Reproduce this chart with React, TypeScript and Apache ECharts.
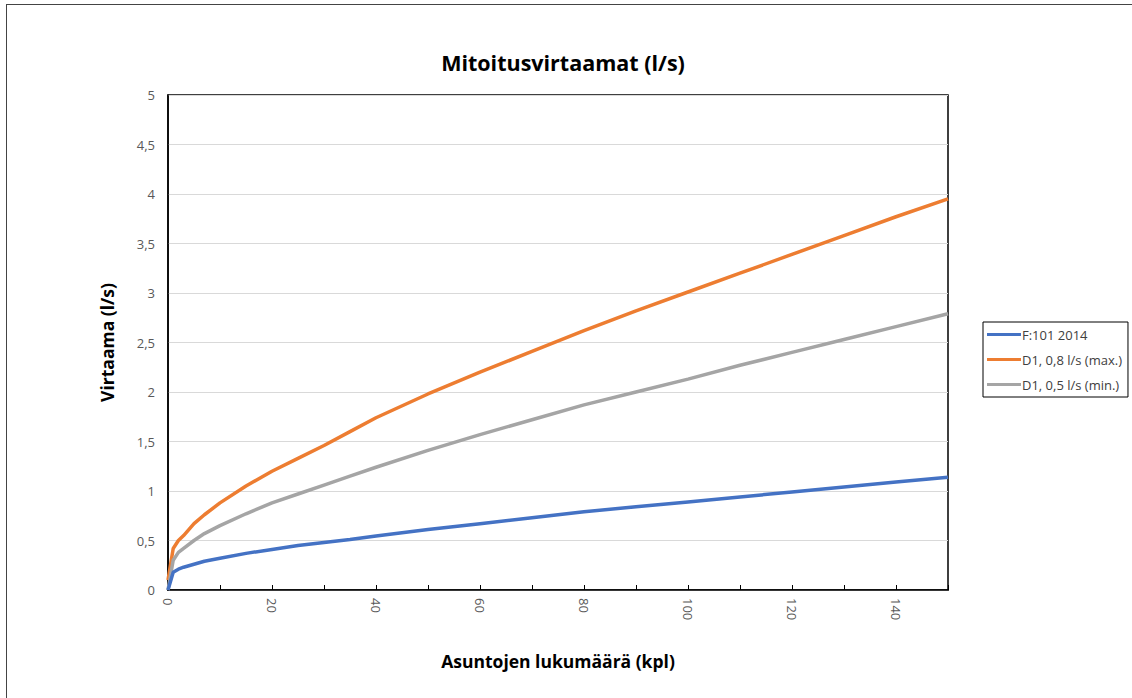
import React, { useEffect, useRef } from "react";
import * as echarts from "echarts";

const xValues = [0, 1, 2, 3, 5, 7, 10, 15, 20, 25, 30, 35, 40, 50, 60, 70, 80, 90, 100, 110, 120, 130, 140, 150];
const blueValues = [0, 0.18, 0.21, 0.23, 0.26, 0.29, 0.32, 0.37, 0.41, 0.45, 0.48, 0.51, 0.545, 0.61, 0.67, 0.73, 0.79, 0.84, 0.89, 0.94, 0.99, 1.04, 1.09, 1.14];
const orangeValues = [0.1, 0.42, 0.5, 0.55, 0.67, 0.76, 0.88, 1.05, 1.2, 1.33, 1.46, 1.6, 1.74, 1.98, 2.2, 2.41, 2.62, 2.82, 3.01, 3.2, 3.39, 3.58, 3.77, 3.95];
const grayValues = [0, 0.3, 0.38, 0.42, 0.5, 0.57, 0.65, 0.77, 0.88, 0.97, 1.06, 1.15, 1.24, 1.41, 1.57, 1.72, 1.87, 2.0, 2.13, 2.27, 2.4, 2.53, 2.66, 2.79];
const seriesNames = ["F:101 2014", "D1, 0,8 l/s (max.)", "D1, 0,5 l/s (min.)"];
const seriesColors = ["#4472C4", "#ED7D31", "#A5A5A5"];

const FONT = "'Open Sans', 'Noto Sans', sans-serif";

export default function App() {
  const ref = useRef<HTMLDivElement>(null);
  useEffect(() => {
    if (!ref.current) return;
    const chart = echarts.init(ref.current, undefined, { renderer: "svg" });
    const pairs = (ys: number[]) => xValues.map((x, i) => [x, ys[i]]);
    const all = [blueValues, orangeValues, grayValues];
    chart.setOption({
      animation: false,
      backgroundColor: "#fff",
      textStyle: { fontFamily: FONT },
      title: {
        text: "Mitoitusvirtaamat (l/s)",
        left: 558,
        textAlign: "center",
        top: 46,
        textStyle: { fontFamily: FONT, fontSize: 21.5, fontWeight: "bold", color: "#000" },
      },
      grid: {
        left: 168,
        top: 95,
        right: 184,
        bottom: 108,
        show: true,
        borderColor: "#000",
        borderWidth: 1.5,
      },
      legend: {
        orient: "vertical",
        left: 983,
        top: 322,
        data: seriesNames,
        borderColor: "#000",
        borderWidth: 1,
        padding: [6, 6, 6, 4],
        itemWidth: 34,
        itemHeight: 3,
        itemGap: 12,
        icon: "rect",
        textStyle: { fontFamily: FONT, fontSize: 13, color: "#404040", padding: [0, 0, 0, -4] },
      },
      xAxis: {
        type: "value",
        min: 0,
        max: 150,
        interval: 10,
        name: "Asuntojen lukumäärä (kpl)",
        nameLocation: "middle",
        nameGap: 62,
        nameTextStyle: { fontFamily: FONT, fontSize: 17.5, fontWeight: "bold", color: "#000" },
        axisLine: { show: true, lineStyle: { color: "#000", width: 1.5 } },
        axisTick: { show: true, inside: true, length: 5, lineStyle: { color: "#000" } },
        axisLabel: {
          rotate: -90,
          fontSize: 13,
          color: "#595959",
          margin: 8,
          formatter: (v: number) => (v % 20 === 0 && v < 150 ? String(v) : ""),
        },
        splitLine: { show: false },
      },
      yAxis: {
        type: "value",
        min: 0,
        max: 5,
        interval: 0.5,
        name: "Virtaama (l/s)",
        nameLocation: "middle",
        nameGap: 52,
        nameTextStyle: { fontFamily: FONT, fontSize: 17.5, fontWeight: "bold", color: "#000" },
        axisLine: { show: true, lineStyle: { color: "#000", width: 1.5 } },
        axisTick: { show: false },
        axisLabel: {
          fontSize: 13,
          color: "#595959",
          margin: 13,
          formatter: (v: number) => String(v).replace(".", ","),
        },
        splitLine: { show: true, lineStyle: { color: "#d9d9d9", width: 1 } },
      },
      graphic: [
        { type: "line", shape: { x1: 6, y1: 4.5, x2: 1132, y2: 4.5 }, style: { stroke: "#444", lineWidth: 1 } },
        { type: "line", shape: { x1: 6.5, y1: 4, x2: 6.5, y2: 698 }, style: { stroke: "#444", lineWidth: 1 } },
      ],
      series: seriesNames.map((name, i) => ({
        name,
        type: "line",
        data: pairs(all[i]),
        showSymbol: false,
        symbol: "none",
        lineStyle: { color: seriesColors[i], width: 3.5 },
        itemStyle: { color: seriesColors[i] },
        z: i === 0 ? 4 : 3,
      })),
    });
    return () => chart.dispose();
  }, []);
  return (
    <div
      ref={ref}
      style={{ position: "absolute", left: 0, top: 0, width: 1132, height: 698 }}
    />
  );
}
